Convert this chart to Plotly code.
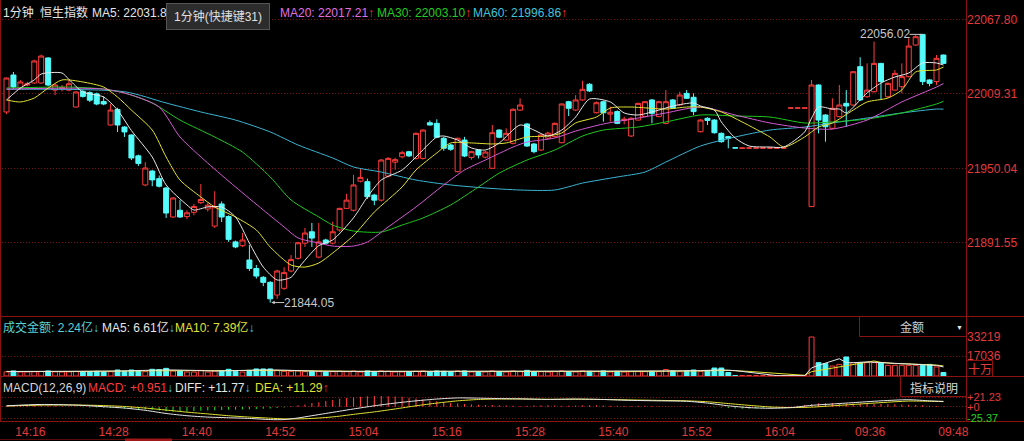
import plotly.graph_objects as go

W, H = 1024, 441
FONT = "Liberation Sans, Arial, Noto Sans CJK SC, sans-serif"

# ---------------- data ----------------
time_tick_idx = [3, 15, 27, 39, 51, 63, 75, 87, 99, 111, 124, 136]
time_tick_txt = ["14:16", "14:28", "14:40", "14:52", "15:04", "15:16",
                 "15:28", "15:40", "15:52", "16:04", "09:36", "09:48"]

price_ticks = [21891.55, 21950.04, 22009.31, 22067.80]
vol_ticks = [17036, 33219]
macd_ticks = [-25.37, 0, 21.23]
macd_tick_txt = ["<span style='color:#1ed21e'>-25.37</span>", "+0", "+21.23"]

opens = [
    21994.7, 22023.9, 22013.6, 22016.0, 22017.6, 22017.6, 22037.4, 22012.0, 22013.0, 22012.0,
    21998.6, 22011.0, 22010.0, 22009.0, 22003.0, 21984.4, 21996.7, 21982.8, 21976.5, 21960.0,
    21937.0, 21948.0, 21942.0, 21934.6, 21911.7, 21917.0, 21912.0, 21915.4, 21923.0, 21918.0,
    21904.5, 21922.0, 21912.0, 21892.0, 21889.0, 21877.7, 21871.0, 21864.0, 21860.0, 21850.0,
    21855.3, 21869.0, 21879.0, 21891.0, 21900.0, 21880.0, 21893.5, 21891.0, 21901.4, 21918.5,
    21917.0, 21940.0, 21939.6, 21929.0, 21925.0, 21944.0, 21955.0, 21959.3, 21963.3, 21958.0,
    21958.0, 21986.2, 21985.7, 21973.9, 21968.6, 21947.5, 21972.5, 21958.8, 21964.6, 21959.0,
    21950.2, 21980.4, 21972.5, 21969.9, 21996.2, 21985.2, 21969.4, 21964.6, 21974.0, 21975.2,
    21970.4, 22002.8, 21996.2, 22004.2, 22016.6, 21994.1, 22002.8, 21993.0, 21995.0, 21988.0,
    21975.7, 21988.3, 21991.0, 22004.2, 21991.0, 21985.7, 22004.2, 22000.2, 22009.4, 22006.3,
    21979.1, 21989.7, 21988.3, 21977.8, 21975.2, 21966.4, 21966.0, 21966.2, 21966.2, 21966.2,
    21966.2, 21966.2, 21966.2, 21997.8, 21997.8, 21997.8, 21919.9, 22016.0, 21992.3, 21981.8,
    21991.0, 22001.5, 22000.2, 22030.5, 22006.7, 22010.7, 22033.1, 22006.7, 22012.0, 22014.7,
    22022.6, 22047.6, 22056.02, 22020.0, 22018.7, 22039.7,
]
highs = [
    22022.0, 22026.3, 22020.0, 22018.5, 22036.0, 22040.0, 22038.0, 22017.0, 22016.0, 22020.0,
    22011.0, 22012.0, 22011.0, 22010.0, 22007.0, 22001.0, 21998.0, 21983.5, 21977.0, 21961.0,
    21955.0, 21949.0, 21944.5, 21935.5, 21927.5, 21925.0, 21917.0, 21922.0, 21937.7, 21923.0,
    21932.0, 21924.0, 21913.0, 21893.0, 21899.0, 21889.5, 21873.7, 21865.0, 21861.0, 21870.0,
    21872.0, 21881.6, 21892.0, 21903.0, 21907.0, 21907.0, 21894.5, 21908.0, 21919.0, 21930.0,
    21945.0, 21950.0, 21942.0, 21930.0, 21957.5, 21959.0, 21958.5, 21964.0, 21964.0, 21978.5,
    21981.0, 21988.0, 21988.9, 21975.0, 21969.5, 21974.5, 21975.0, 21964.0, 21965.0, 21964.0,
    21984.4, 21981.0, 21981.8, 21997.5, 22005.5, 21986.0, 21970.0, 21977.0, 21979.0, 21986.5,
    22001.5, 22003.5, 22008.0, 22019.4, 22017.5, 22003.0, 22003.5, 21999.0, 21996.0, 21991.0,
    21990.5, 22002.0, 22003.5, 22005.0, 22003.5, 22012.0, 22005.0, 22010.7, 22012.0, 22009.4,
    21989.0, 21990.5, 21989.0, 21978.5, 21975.8, 21966.4, 21966.2, 21966.2, 21966.2, 21966.2,
    21966.2, 21966.2, 21966.2, 21997.8, 21997.8, 21997.8, 22020.0, 22016.5, 21993.0, 22005.5,
    22016.0, 22012.0, 22027.0, 22037.9, 22033.1, 22050.3, 22033.5, 22018.0, 22027.9, 22033.1,
    22052.9, 22055.5, 22056.02, 22020.5, 22039.7, 22040.0,
]
lows = [
    21993.0, 22013.0, 22013.0, 22015.0, 22017.0, 22017.0, 22015.0, 22008.0, 22011.0, 22011.0,
    21998.0, 22006.0, 22002.5, 22000.0, 22000.0, 21984.0, 21978.9, 21975.0, 21956.7, 21952.0,
    21936.0, 21936.0, 21935.0, 21910.9, 21911.0, 21911.0, 21910.0, 21913.0, 21922.0, 21916.0,
    21903.0, 21907.7, 21892.0, 21887.0, 21888.0, 21869.0, 21863.0, 21857.0, 21844.05, 21847.0,
    21854.0, 21868.0, 21878.0, 21888.0, 21888.0, 21879.0, 21890.0, 21890.0, 21900.0, 21918.0,
    21916.0, 21939.0, 21926.0, 21921.0, 21924.0, 21943.0, 21949.0, 21958.0, 21959.0, 21957.0,
    21957.0, 21984.0, 21974.0, 21964.0, 21964.0, 21947.0, 21959.0, 21957.0, 21958.0, 21958.0,
    21950.0, 21974.0, 21972.0, 21969.0, 21995.5, 21967.0, 21962.0, 21964.0, 21973.0, 21974.5,
    21970.0, 21991.5, 21995.5, 22003.5, 22010.5, 21993.5, 21987.0, 21987.0, 21985.0, 21985.0,
    21975.0, 21988.0, 21990.5, 21985.7, 21990.5, 21985.0, 21997.0, 21999.5, 22005.0, 21992.3,
    21978.5, 21984.4, 21977.5, 21970.5, 21966.0, 21966.2, 21966.0, 21966.2, 21966.2, 21966.2,
    21966.2, 21966.2, 21966.2, 21997.8, 21997.8, 21997.8, 21919.9, 21977.8, 21971.2, 21981.0,
    21990.5, 21983.0, 21999.5, 22003.5, 22006.0, 22010.0, 22004.2, 22006.0, 22011.5, 22009.5,
    22022.0, 22047.0, 22016.0, 22015.0, 22016.0, 22032.5,
]
closes = [
    22021.5, 22014.4, 22018.4, 22017.0, 22035.0, 22038.9, 22016.0, 22016.0, 22014.0, 22017.0,
    22010.5, 22007.0, 22004.0, 22001.0, 22001.0, 21996.2, 21984.4, 21978.9, 21958.3, 21954.0,
    21950.4, 21941.0, 21936.0, 21914.8, 21926.7, 21911.7, 21915.0, 21920.0, 21925.5, 21921.0,
    21919.8, 21911.7, 21894.0, 21888.0, 21893.5, 21871.0, 21865.0, 21860.0, 21847.0, 21869.0,
    21867.7, 21878.0, 21891.3, 21899.0, 21895.0, 21892.0, 21891.0, 21900.0, 21918.5, 21925.0,
    21937.0, 21943.0, 21927.7, 21925.0, 21956.7, 21958.0, 21957.0, 21962.5, 21960.0, 21977.8,
    21980.4, 21984.4, 21974.7, 21966.0, 21965.2, 21973.9, 21959.9, 21963.3, 21960.7, 21963.0,
    21978.3, 21974.7, 21977.8, 21996.8, 22000.2, 21967.8, 21963.3, 21976.5, 21978.0, 21985.7,
    22001.0, 21997.6, 22004.2, 22012.6, 22011.3, 22002.0, 21994.1, 21994.5, 21985.7, 21989.0,
    21989.7, 22001.5, 22002.8, 21993.6, 22002.8, 22002.8, 21997.6, 22008.1, 22005.5, 21995.0,
    21988.3, 21988.0, 21978.3, 21971.2, 21974.0, 21966.2, 21966.2, 21966.2, 21966.2, 21966.2,
    21966.2, 21966.2, 21966.2, 21997.8, 21997.8, 21997.8, 22016.0, 21988.3, 21983.0, 21997.6,
    22000.2, 21999.4, 22026.5, 22004.2, 22012.0, 22033.1, 22018.7, 22017.3, 22025.2, 22022.6,
    22046.8, 22054.2, 22018.7, 22017.3, 22037.1, 22033.1,
]
# turnover per bar, unit 十万
volumes = [
    3500, 4300, 3400, 3400, 3600, 3800, 4300, 3500, 3400, 3500,
    3800, 3700, 3700, 4000, 3400, 3700, 5100, 4000, 5100, 4300,
    3700, 5700, 5400, 6500, 4300, 4300, 3400, 3400, 4800, 3400,
    4300, 4300, 5700, 4000, 3400, 4800, 6000, 6000, 6000, 4800,
    4000, 4000, 4300, 3700, 4000, 3700, 3400, 3700, 4000, 3700,
    4300, 3400, 4300, 3700, 4300, 4000, 3400, 3400, 3700, 4000,
    4300, 3400, 4300, 4000, 3400, 4300, 4300, 3400, 3400, 3400,
    4300, 3700, 3400, 4300, 3700, 4800, 3700, 3700, 3400, 3700,
    4300, 3700, 3400, 4300, 4000, 3700, 4300, 3400, 4000, 3400,
    3700, 3700, 3700, 4000, 3700, 5500, 4300, 3700, 4300, 5100,
    4000, 4300, 6800, 6800, 3000, 300, 300, 300, 300, 300,
    300, 300, 300, 300, 300, 300, 33219, 11360, 10500, 8500,
    9900, 16200, 11400, 11400, 11400, 11400, 11400, 9100, 9100, 9100,
    9100, 9100, 9100, 9900, 7700, 3000,
]

# moving-average lines (bar index -> value)
ma5_idx = [0, 2, 4, 5, 8, 9, 11, 14, 16, 18, 21, 23, 26, 27, 29, 31, 33, 35, 37, 39,
           41, 42, 45, 47, 50, 52, 54, 57, 59, 62, 63, 65, 67, 69, 71, 74, 76, 78, 80, 82,
           84, 87, 89, 91, 94, 96, 99, 100, 102, 103, 105, 107, 110, 112, 115, 116, 117, 119, 120, 121,
           123, 124, 126, 128, 130, 132, 134, 135]
ma5_val = [22004.2, 22013.6, 22020.0, 22024.7, 22025.5, 22020.4, 22010.5, 22006.5, 21996.2, 21980.0,
           21959.1, 21937.0, 21921.2, 21917.2, 21919.6, 21919.6, 21911.7, 21891.1, 21872.1, 21861.9,
           21864.0, 21871.0, 21889.0, 21893.5, 21911.0, 21927.5, 21940.9, 21948.8, 21959.1, 21974.9,
           21975.7, 21972.5, 21966.2, 21964.6, 21970.2, 21984.4, 21980.4, 21975.7, 21980.4, 21990.7,
           22004.9, 22002.6, 21993.9, 21992.3, 21996.2, 21999.4, 22001.8, 21999.4, 21996.2, 21986.8,
           21974.1, 21967.8, 21967.0, 21967.0, 21978.9, 21989.9, 21998.6, 21997.0, 21997.0, 21993.9,
           22004.2, 22009.7, 22017.6, 22022.3, 22025.5, 22033.4, 22033.4, 22031.8]
ma10_idx = [0, 2, 4, 6, 8, 11, 14, 16, 18, 21, 23, 25, 28, 30, 33, 36, 38, 41, 43, 45,
            47, 50, 53, 57, 59, 62, 64, 67, 70, 72, 75, 78, 80, 82, 85, 87, 90, 95, 98, 100,
            103, 106, 110, 112, 115, 117, 119, 122, 124, 127, 129, 131, 134, 135]
ma10_val = [22004.2, 22002.6, 22005.7, 22013.6, 22020.0, 22018.4, 22014.4, 22006.5, 21996.2, 21980.4,
            21959.1, 21940.9, 21927.5, 21919.6, 21911.7, 21901.4, 21887.9, 21873.7, 21872.1, 21875.3,
            21883.2, 21897.0, 21915.6, 21935.4, 21948.8, 21962.3, 21970.2, 21970.2, 21969.4, 21970.2,
            21974.9, 21975.7, 21978.1, 21986.0, 21990.7, 21997.8, 21998.6, 21997.0, 21998.6, 21998.6,
            21994.7, 21986.8, 21974.9, 21967.0, 21974.9, 21982.8, 21986.0, 21996.2, 22002.6, 22005.7,
            22012.1, 22026.3, 22027.9, 22030.2]
ma20_idx = [0, 14, 18, 22, 25, 29, 33, 37, 40, 42, 45, 47, 50, 52, 55, 59, 63, 66, 69, 73,
            75, 79, 82, 86, 91, 95, 100, 105, 110, 115, 119, 124, 129, 134, 135]
ma20_val = [22012.8, 22012.8, 22008.1, 21998.6, 21974.9, 21954.3, 21935.4, 21917.2, 21903.8, 21895.1,
            21891.1, 21888.7, 21888.7, 21891.9, 21903.8, 21919.6, 21937.0, 21948.8, 21956.7, 21967.0,
            21970.9, 21974.1, 21979.6, 21985.2, 21989.9, 21993.9, 21998.6, 21992.3, 21986.0, 21982.0,
            21981.2, 21988.3, 22002.6, 22014.4, 22017.2]
ma30_idx = [0, 9, 14, 17, 21, 25, 30, 34, 38, 41, 45, 47, 50, 54, 57, 60, 64, 68, 71, 75,
            79, 83, 86, 91, 95, 100, 105, 110, 115, 119, 124, 129, 134, 135]
ma30_val = [22013.6, 22014.4, 22012.8, 22009.7, 22001.8, 21988.3, 21974.9, 21963.0, 21943.3, 21925.1,
            21911.7, 21905.3, 21900.6, 21899.8, 21905.3, 21910.9, 21921.2, 21935.4, 21946.4, 21956.7,
            21964.6, 21975.7, 21980.4, 21982.8, 21986.8, 21992.3, 21991.5, 21990.7, 21986.0, 21986.8,
            21989.1, 21993.9, 22001.0, 22003.1]
ma60_idx = [0, 17, 23, 28, 33, 38, 42, 47, 50, 54, 59, 64, 69, 74, 79, 83, 88, 92, 95, 100,
            105, 110, 115, 119, 124, 129, 134, 135]
ma60_val = [22012.6, 22010.7, 22001.8, 21994.7, 21988.3, 21978.9, 21968.6, 21958.3, 21951.2, 21947.2,
            21940.9, 21937.0, 21934.6, 21933.0, 21933.0, 21938.5, 21943.3, 21947.2, 21955.1, 21967.8,
            21974.9, 21980.4, 21982.8, 21986.0, 21989.9, 21993.9, 21997.0, 21996.9]

vol_ma5_idx = [0, 10, 16, 20, 23, 27, 30, 33, 37, 40, 45, 50, 55, 60, 65, 70, 75, 80, 85, 90,
               95, 100, 103, 105, 107, 109, 111, 115, 116, 117, 118, 119, 120, 121, 122, 124, 126, 128, 130, 132,
               134, 135]
vol_ma5_val = [3800, 3900, 4200, 4800, 5200, 4800, 4200, 4600, 5200, 5000, 4000, 3900, 3900, 3900, 3800,
               3800, 4000, 3900, 3800, 3800, 4300, 4600, 5200, 4600, 3200, 1900, 300, 300, 6900, 9100,
               11100, 12800, 14700, 11300, 11300, 12000, 11400, 10500, 9700, 9300, 9000, 7700]
vol_ma10_idx = [0, 10, 20, 25, 30, 35, 40, 45, 50, 60, 70, 80, 90, 100, 104, 107, 110, 113, 115, 116,
                118, 120, 122, 124, 125, 126, 128, 130, 132, 134, 135]
vol_ma10_val = [3900, 3800, 4400, 4800, 4600, 4700, 4800, 4400, 4000, 3900, 3800, 3900, 3800, 4300, 4800,
                3900, 2500, 1100, 600, 3700, 5700, 7600, 9400, 11300, 12800, 11600, 10600, 10300, 9900, 9300,
                8600]

macd_idx = [0, 5, 10, 14, 17, 20, 23, 26, 29, 32, 35, 38, 40, 42, 44, 46, 48, 50, 53, 56,
            59, 62, 65, 68, 71, 74, 78, 82, 86, 90, 94, 98, 101, 104, 107, 110, 113, 116, 119, 122,
            126, 130, 133, 135]
diff_val = [2, 5, 3.5, 0, -3, -8, -15, -20, -23, -24.5, -26, -28.5, -28.5, -25, -20, -15, -10, -5, 2, 8,
            13, 17, 19.5, 19, 18, 17.5, 16, 17, 16, 14, 13, 12, 8, 2, -2, -3.5, -2, 3, 6, 9,
            13, 15.5, 13, 11.77]
dea_val = [1.5, 3.5, 3.8, 2.5, 0.5, -3, -7.5, -12, -16, -20, -23, -25.5, -27, -27, -26, -24, -21, -17, -11.5, -5,
           2, 8, 13, 16, 17, 17, 16.5, 16.5, 16, 15, 14, 13, 11, 7, 3, -0.5, -2, -1, 2, 5,
           9, 12.5, 12, 11.29]
macd_hist = [
    1.0, 1.5, 2.0, 2.5, 3.0, 3.0, 2.5, 2.0, 1.0, 0.5,
    -0.5, -1.0, -1.5, -2.0, -2.5, -3.0, -3.5,
    -4, -4.5, -5, -6, -7, -8.5,
    -10, -11, -11, -10.5,
    -9.5, -9, -8.5, -8, -7.5, -7, -6.5, -6, -5.5, -5, -4.5, -4, -3,
    -1.5,
    1.5, 3, 5, 8, 10, 12.5, 15, 17.5, 19.5, 21,
    22, 23, 23.5, 23.5, 23, 22.5, 22,
    20, 18, 16, 14, 12, 10, 8.5, 7, 6,
    5, 4.5, 4, 3.5, 3, 2.5, 2, 1.5,
    2, 2.5, 3, 3, 2.5, 2, 2, 2.5, 3, 3.5, 3, 2.5, 2, 2, 1.5, 1.5, 2, 2, 1.5, 1, 1, 0.5, 0.5, 0.5, 0.3, 0.2, 0.2,
    -1, -2, -3, -4, -4.5, -4.5, -4, -3,
    -2, -1, -0.5, 0.5,
    2, 4, 6, 7.5, 8, 8, 7.5,
    7, 7, 6.5, 6.5, 6, 6, 5.5, 5.5, 5, 4.5, 4, 3, 2, 1.5, 0.95,
]

N = len(closes)
assert len(opens) == N and len(highs) == N and len(lows) == N
assert len(volumes) == N and len(macd_hist) == N

# ---------------- style ----------------
BG = "#000000"
RED = "#ff3c3c"
CYAN = "#54fcfc"
TICK_RED = "#e23a3a"
BORDER = "#8c1212"
GRID = "#7a1010"
GRID_DASH = "1px,2px"
C_MA5 = "#e8e8e8"
C_MA10 = "#e2e232"
C_MA20 = "#d45ad4"
C_MA30 = "#1ec81e"
C_MA60 = "#3cb4d2"
C_TXT = "#e6e6e6"


def px(x):
    return x / W


def py(y):
    return 1 - y / H


xs = list(range(N))

# bar direction (same rule the candlestick uses)
up = []
prev_c, prev_up = None, True
for o, c in zip(opens, closes):
    if c != o:
        u = c > o
    elif prev_c is not None and c != prev_c:
        u = c > prev_c
    else:
        u = prev_up
    up.append(u)
    prev_c, prev_up = c, u

fig = go.Figure()

# ---- main price panel ----
fig.add_trace(go.Candlestick(
    x=xs, open=opens, high=highs, low=lows, close=closes,
    increasing=dict(line=dict(color=RED, width=1), fillcolor=BG),
    decreasing=dict(line=dict(color=CYAN, width=1), fillcolor=CYAN),
    whiskerwidth=0, xaxis="x", yaxis="y", hoverinfo="skip", showlegend=False))

for idx, val, col in [(ma60_idx, ma60_val, C_MA60), (ma30_idx, ma30_val, C_MA30),
                      (ma20_idx, ma20_val, C_MA20), (ma10_idx, ma10_val, C_MA10),
                      (ma5_idx, ma5_val, C_MA5)]:
    fig.add_trace(go.Scatter(x=idx, y=val, mode="lines",
                             line=dict(color=col, width=1, shape="spline", smoothing=0.7),
                             xaxis="x", yaxis="y", hoverinfo="skip", showlegend=False))

# ---- volume panel ----
fig.add_trace(go.Bar(
    x=xs, y=volumes, width=0.7,
    marker=dict(color=[BG if u else CYAN for u in up],
                line=dict(color=[RED if u else CYAN for u in up], width=1)),
    xaxis="x2", yaxis="y2", hoverinfo="skip", showlegend=False))
fig.add_trace(go.Scatter(x=vol_ma10_idx, y=vol_ma10_val, mode="lines",
                         line=dict(color=C_MA10, width=1), xaxis="x2", yaxis="y2",
                         hoverinfo="skip", showlegend=False))
fig.add_trace(go.Scatter(x=vol_ma5_idx, y=vol_ma5_val, mode="lines",
                         line=dict(color=C_MA5, width=1), xaxis="x2", yaxis="y2",
                         hoverinfo="skip", showlegend=False))

# ---- MACD panel ----
fig.add_trace(go.Bar(
    x=xs, y=macd_hist, width=0.16,
    marker=dict(color=[RED if v >= 0 else "#1ed21e" for v in macd_hist], line=dict(width=0)),
    xaxis="x3", yaxis="y3", hoverinfo="skip", showlegend=False))
fig.add_trace(go.Scatter(x=macd_idx, y=dea_val, mode="lines",
                         line=dict(color=C_MA10, width=1, shape="spline", smoothing=0.7),
                         xaxis="x3", yaxis="y3", hoverinfo="skip", showlegend=False))
fig.add_trace(go.Scatter(x=macd_idx, y=diff_val, mode="lines",
                         line=dict(color=C_MA5, width=1, shape="spline", smoothing=0.7),
                         xaxis="x3", yaxis="y3", hoverinfo="skip", showlegend=False))

# ---------------- axes ----------------
XDOM = [px(2), px(966)]
XRANGE = [-0.648, 138.25]
tickfont = dict(family=FONT, size=12, color=TICK_RED)

common_x = dict(domain=XDOM, range=XRANGE, showgrid=False, zeroline=False,
                showline=False, ticks="", fixedrange=True, automargin=False)
common_y = dict(side="right", tickmode="array", tickfont=tickfont, showgrid=True,
                gridcolor=GRID, griddash=GRID_DASH, gridwidth=1, zeroline=False,
                showline=False, ticks="", fixedrange=True, automargin=False)

fig.update_layout(
    template="none",
    xaxis=dict(**common_x, anchor="y", showticklabels=False, rangeslider=dict(visible=False)),
    xaxis2=dict(**common_x, anchor="y2", showticklabels=False),
    xaxis3=dict(**common_x, anchor="y3", showticklabels=True,
                tickmode="array", tickvals=time_tick_idx, ticktext=time_tick_txt,
                tickfont=tickfont, ticklabelshift=3, ticklabelstandoff=2),
    yaxis=dict(**common_y, domain=[py(314), py(0)], range=[21835.0, 22083.2], anchor="x",
               tickvals=price_ticks, ticktext=[f"{v:.2f}" for v in price_ticks]),
    yaxis2=dict(**common_y, domain=[py(376), py(336)], range=[0, 34070], anchor="x2",
                tickvals=vol_ticks, ticktext=[str(v) for v in vol_ticks]),
    yaxis3=dict(**common_y, domain=[py(421), py(392)], range=[-31.7, 32.6], anchor="x3",
                tickvals=macd_ticks, ticktext=macd_tick_txt),
    boxgap=0.28, boxgroupgap=0,
    width=W, height=H, margin=dict(l=0, r=0, t=0, b=0, pad=0), autosize=False,
    paper_bgcolor=BG, plot_bgcolor="rgba(0,0,0,0)", showlegend=False,
    hovermode=False,
)
fig.update_yaxes(tickfont=dict(family=FONT, size=11, color=TICK_RED), selector=dict(anchor="x3"))

# ---------------- frame lines ----------------
shapes = []


def hline(y, x0, x1, color=BORDER):
    shapes.append(dict(type="line", xref="paper", yref="paper", x0=px(x0), x1=px(x1),
                       y0=py(y), y1=py(y), line=dict(color=color, width=1), layer="below"))


def vline(x, y0, y1, color=BORDER):
    shapes.append(dict(type="line", xref="paper", yref="paper", x0=px(x), x1=px(x),
                       y0=py(y0), y1=py(y1), line=dict(color=color, width=1), layer="below"))


vline(966.5, 0, 421.5)
vline(0.5, 0, 421.5)
hline(316.5, 0, 1024)
hline(376.5, 0, 1024)
hline(421.5, 0, 1024)
vline(859.5, 316.5, 336.5)
hline(336.5, 859.5, 966.5)
vline(900.5, 376.5, 396.5)
hline(396.5, 900.5, 966.5)
hline(360.5, 966.5, 992.5)
vline(992.5, 360.5, 376.5)
hline(439.5, 0, 842, "#5a0c0c")
shapes.append(dict(type="rect", xref="paper", yref="paper", x0=px(125), x1=px(172),
                   y0=py(441), y1=py(438.5), line=dict(width=0), fillcolor="#a01818", layer="below"))
fig.update_layout(shapes=shapes)

# ---------------- texts ----------------
anns = []


def span(t, c):
    return f"<span style='color:{c}'>{t}</span>"


def text(t, x, y, color=C_TXT, size=12, xanchor="left", **kw):
    anns.append(dict(text=t, x=px(x), y=py(y), xref="paper", yref="paper",
                     xanchor=xanchor, yanchor="middle", showarrow=False,
                     font=dict(family=FONT, size=size, color=color),
                     borderpad=0, borderwidth=0, **kw))


ARW_UP = span("↑", "#ff3030")
ARW_DN = span("↓", "#3cd2e6")

# main header
text("1分钟", 3, 13)
text("恒生指数", 40, 13)
text("MA5: 22031.8", 92, 13, C_TXT)
text(span("MA20: 22017.21", "#e070e0") + ARW_UP, 280, 13)
text(span("MA30: 22003.10", "#22cc22") + ARW_UP, 377, 13)
text(span("MA60: 21996.86", "#40c4dc") + ARW_UP, 473, 13)
# tooltip
anns.append(dict(text="1分钟(快捷键31)", x=px(166), y=py(3), xref="paper", yref="paper",
                 xanchor="left", yanchor="top", showarrow=False, width=102, height=25,
                 align="center", valign="middle", bgcolor="#2c2c2c", bordercolor="#555555",
                 borderwidth=1, borderpad=0,
                 font=dict(family=FONT, size=12, color="#e0e0e0")))

# volume header
text(span("成交金额: 2.24亿", "#5ad2d2") + ARW_DN, 3, 327.5)
text(span("MA5: 6.61亿", C_TXT) + ARW_DN, 102, 327.5)
text(span("MA10: 7.39亿", C_MA10) + ARW_DN, 175, 327.5)

# macd header
text("MACD(12,26,9)", 3, 388, "#d8d8d8")
text(span("MACD: +0.951", "#ff3c3c") + ARW_DN, 88, 388)
text(span("DIFF: +11.77", C_TXT) + ARW_DN, 175, 388)
text(span("DEA: +11.29", C_MA10) + ARW_UP, 255, 388)

# right-side widgets
text("金额", 911.5, 327.5, "#d0d0d0", xanchor="center")
text("▼", 959, 327, "#e8e8e8", size=7, xanchor="center")
text("指标说明", 933.5, 388, "#d8d8d8", xanchor="center")
text("十万", 968, 370, TICK_RED)

# extreme price markers
anns.append(dict(text="22056.02", x=132, y=highs[132], xref="x", yref="y",
                 xanchor="right", yanchor="middle", showarrow=True, ax=-13, ay=0,
                 arrowhead=0, arrowwidth=1, arrowcolor="#c8c8c8", standoff=0,
                 font=dict(family=FONT, size=12, color="#c8c8c8"), borderpad=0, borderwidth=0))
anns.append(dict(text="21844.05", x=38, y=lows[38], xref="x", yref="y",
                 xanchor="left", yanchor="middle", showarrow=True, ax=14, ay=0,
                 arrowhead=2, arrowsize=0.7, arrowwidth=1, arrowcolor="#c8c8c8", standoff=1,
                 font=dict(family=FONT, size=12, color="#c8c8c8"), borderpad=0, borderwidth=0))

fig.update_layout(annotations=anns)

fig.write_html("out.html", config={"displayModeBar": False, "staticPlot": True},
               post_script="document.body.style.margin='0';")
